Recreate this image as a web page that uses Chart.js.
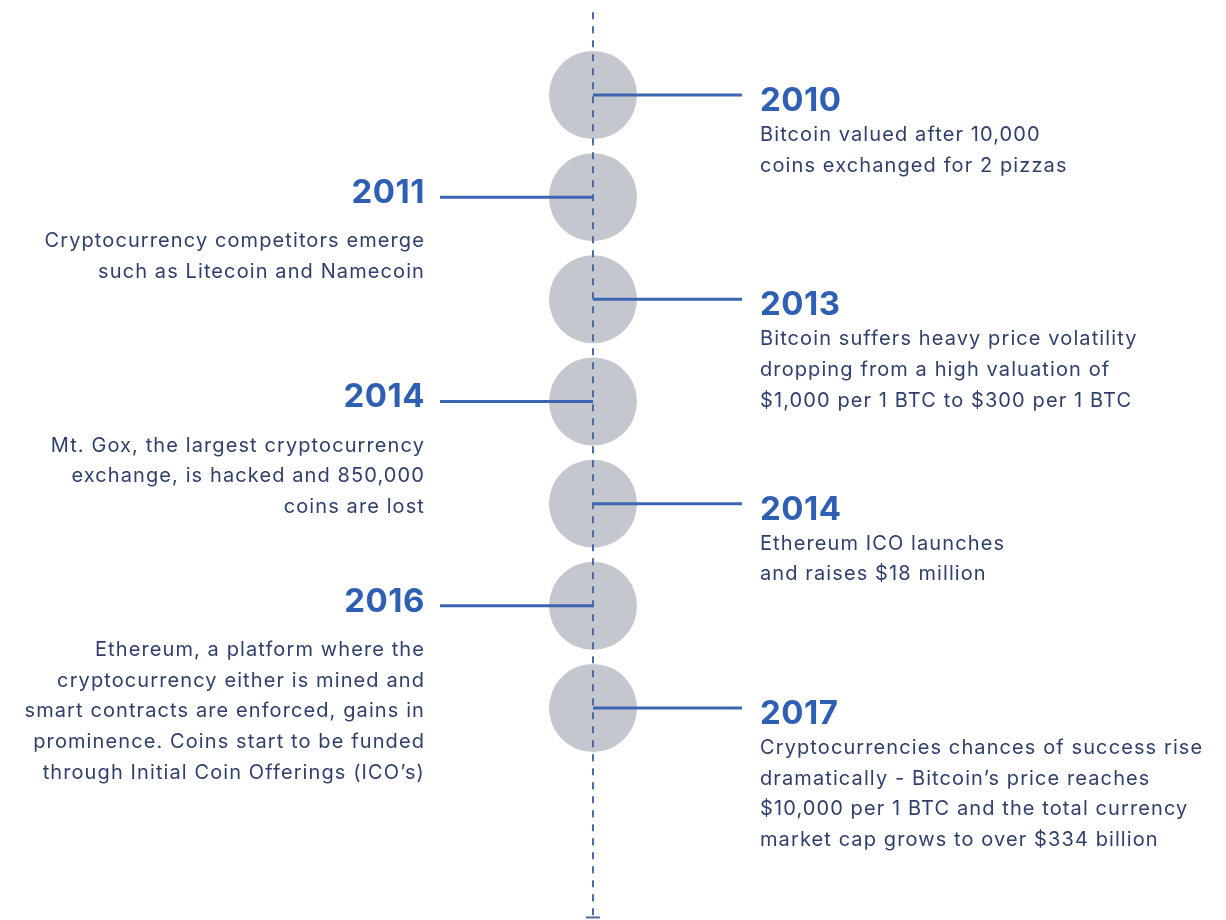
<!DOCTYPE html>
<html>
<head>
<meta charset="utf-8">
<script src="https://cdn.jsdelivr.net/npm/chart.js@4"></script>
<style>
  html, body { margin: 0; padding: 0; background: #ffffff; }
  canvas { display: block; }
</style>
</head>
<body>
<canvas id="timeline" width="1226" height="920"></canvas>
<script>
// ----------------------------------------------------
//                TIMELINE DATA
// ----------------------------------------------------
const years = ["2010", "2011", "2013", "2014", "2014", "2016", "2017"];
const sides = ["right", "left", "right", "left", "right", "left", "right"];
const descriptions = [
  ["Bitcoin valued after 10,000", "coins exchanged for 2 pizzas"],
  ["Cryptocurrency competitors emerge", "such as Litecoin and Namecoin"],
  ["Bitcoin suffers heavy price volatility", "dropping from a high valuation of", "$1,000 per 1 BTC to $300 per 1 BTC"],
  ["Mt. Gox, the largest cryptocurrency", "exchange, is hacked and 850,000", "coins are lost"],
  ["Ethereum ICO launches", "and raises $18 million"],
  ["Ethereum, a platform where the", "cryptocurrency either is mined and", "smart contracts are enforced, gains in", "prominence. Coins start to be funded", "through Initial Coin Offerings (ICO’s)"],
  ["Cryptocurrencies chances of success rise", "dramatically - Bitcoin’s price reaches", "$10,000 per 1 BTC and the total currency", "market cap grows to over $334 billion"]
];

// ----------------------------------------------------
//                LAYOUT (scale units)
// ----------------------------------------------------
const spineTop = -0.81;
const spineBottom = 8.05;
const connectorRight = 1.49;
const connectorLeft = -1.53;
const textRight = 1.67;
const textLeft = -1.68;

const BLUE = "#2f5fb3";
const NAVY = "#2f3f6b";
const LINE = "#3c66b1";
const CIRCLE = "#c4c7ce";

// ----------------------------------------------------
//                DATASETS
// ----------------------------------------------------
const datasets = [];

datasets.push({
  label: "circles",
  data: years.map((y, i) => ({ x: 0, y: i })),
  pointRadius: 44,
  pointHoverRadius: 44,
  pointBackgroundColor: CIRCLE,
  pointBorderWidth: 0,
  showLine: false,
  order: 5
});

datasets.push({
  label: "spine",
  data: [{ x: 0, y: spineTop }, { x: 0, y: spineBottom }],
  showLine: true,
  borderColor: "#4b6aa6",
  borderWidth: 2,
  borderDash: [7, 7],
  pointRadius: 0,
  order: 2
});

datasets.push({
  label: "foot",
  data: [{ x: -0.07, y: spineBottom }, { x: 0.07, y: spineBottom }],
  showLine: true,
  borderColor: "#4b6aa6",
  borderWidth: 2,
  pointRadius: 0,
  order: 2
});

sides.forEach((side, i) => {
  datasets.push({
    label: "connector " + years[i],
    data: [{ x: 0, y: i }, { x: side === "right" ? connectorRight : connectorLeft, y: i }],
    showLine: true,
    borderColor: LINE,
    borderWidth: 3,
    pointRadius: 0,
    order: 1
  });
});

// ----------------------------------------------------
//                TEXT PLUGIN
// ----------------------------------------------------
const labelsPlugin = {
  id: "labels",
  afterDatasetsDraw(chart) {
    const ctx = chart.ctx;
    const xs = chart.scales.x;
    const ys = chart.scales.y;
    ctx.save();
    ctx.textBaseline = "middle";
    years.forEach((year, i) => {
      const right = sides[i] === "right";
      const cy = ys.getPixelForValue(i);
      const tx = xs.getPixelForValue(right ? textRight : textLeft);
      ctx.textAlign = right ? "left" : "right";

      ctx.fillStyle = BLUE;
      ctx.letterSpacing = "0.5px";
      ctx.font = "700 33px Inter, 'Noto Sans', sans-serif";
      const yearY = right ? cy + 6 : cy - 4;
      ctx.fillText(year, tx, yearY);

      ctx.fillStyle = NAVY;
      ctx.letterSpacing = "1.1px";
      ctx.font = "20px Inter, 'Noto Sans', sans-serif";
      const first = right ? cy + 40 : cy + 44;
      descriptions[i].forEach((line, k) => {
        ctx.fillText(line, tx, first + k * 30.7);
      });
    });
    ctx.restore();
  }
};

// ----------------------------------------------------
//                CHART
// ----------------------------------------------------
new Chart(document.getElementById("timeline"), {
  type: "scatter",
  data: { datasets },
  options: {
    responsive: false,
    animation: false,
    devicePixelRatio: 1,
    layout: { padding: 0, autoPadding: false },
    plugins: { legend: { display: false }, tooltip: { enabled: false } },
    scales: {
      x: { type: "linear", min: -5.93, max: 6.33, display: false },
      y: { type: "linear", min: -0.93, max: 8.075, reverse: true, display: false }
    }
  },
  plugins: [labelsPlugin]
});
</script>
</body>
</html>
